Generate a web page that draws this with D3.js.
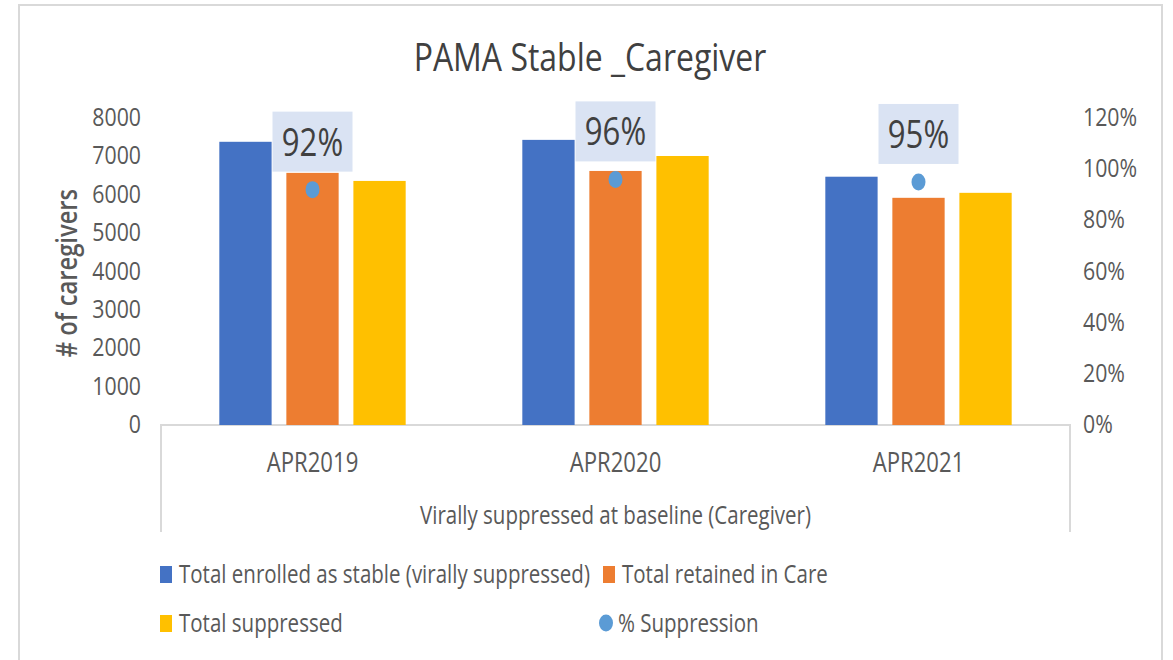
<!DOCTYPE html>
<html>
<head>
<meta charset="utf-8">
<script src="https://cdn.jsdelivr.net/npm/d3@7"></script>
<style>
  body { margin: 0; background: #fff; }
  text { font-family: "Open Sans", sans-serif; }
</style>
</head>
<body>
<script>
const categories = ["APR2019", "APR2020", "APR2021"];
const seriesNames = ["Total enrolled as stable (virally suppressed)", "Total retained in Care", "Total suppressed"];
const enrolled = [7380, 7430, 6470];
const retained = [6570, 6620, 5920];
const suppressed = [6360, 7010, 6050];
const pctSuppression = [0.92, 0.96, 0.95];
const pctLabels = ["92%", "96%", "95%"];
const leftTicks = [0, 1000, 2000, 3000, 4000, 5000, 6000, 7000, 8000];
const rightTicks = [0, 0.2, 0.4, 0.6, 0.8, 1.0, 1.2];

const colors = ["#4472c4", "#ed7d31", "#ffc000"];
const dotColor = "#5b9bd5";
const textColor = "#595959";
const SX = 0.82; // narrow, tall look of the source font

const width = 1173, height = 660;
const plot = { left: 161, right: 1070, top: 118, bottom: 425 };

const svg = d3.select("body").append("svg")
  .attr("width", width).attr("height", height);

// chart frame
svg.append("rect")
  .attr("x", 19).attr("y", 5)
  .attr("width", 1143).attr("height", 670)
  .attr("fill", "#fff")
  .attr("stroke", "#d9d9d9").attr("stroke-width", 2);

function label(x, y, str, size, anchor, color, extra) {
  const t = svg.append("text")
    .attr("transform", `translate(${x},${y})` + (extra || "") + ` scale(${SX},1)`)
    .attr("text-anchor", anchor)
    .attr("font-size", size + "px")
    .attr("fill", color)
    .text(str);
  return t;
}

const x0 = d3.scaleBand().domain(categories).range([plot.left, plot.right]);
const x1 = d3.scaleBand().domain(seriesNames).range([0, x0.bandwidth()])
  .paddingInner(0.22).paddingOuter(0.87);
const y = d3.scaleLinear().domain([0, 8000]).range([plot.bottom, plot.top]);
const y2 = d3.scaleLinear().domain([0, 1.2]).range([plot.bottom, plot.top]);

// title
label(590, 71, "PAMA Stable _Caregiver", 39, "middle", "#404040");

// category axis box
svg.append("path")
  .attr("d", `M${plot.left},532V${plot.bottom}H${plot.right}V532`)
  .attr("fill", "none").attr("stroke", "#d9d9d9").attr("stroke-width", 2);

// bars
const table = categories.map((c, i) => ({
  cat: c, vals: [enrolled[i], retained[i], suppressed[i]]
}));
const groups = svg.selectAll("g.grp").data(table).enter().append("g")
  .attr("class", "grp")
  .attr("transform", d => `translate(${x0(d.cat)},0)`);
groups.selectAll("rect")
  .data(d => d.vals.map((v, k) => ({ key: seriesNames[k], v, k })))
  .enter().append("rect")
  .attr("x", d => x1(d.key))
  .attr("width", x1.bandwidth())
  .attr("y", d => y(d.v))
  .attr("height", d => y(0) - y(d.v))
  .attr("fill", d => colors[d.k]);

// left ticks
leftTicks.forEach(t => label(141, y(t) + 8, String(t), 26, "end", textColor));
// right ticks
rightTicks.forEach(t => label(1083, y2(t) + 8, d3.format(".0%")(t), 26, "start", textColor));

// left axis title
label(77, 273, "# of caregivers", 29, "middle", textColor, " rotate(-90)")
  .attr("font-weight", "600");

// category labels
categories.forEach(c => label(x0(c) + x0.bandwidth() / 2, 472, c, 27, "middle", textColor));
label((plot.left + plot.right) / 2, 524, "Virally suppressed at baseline (Caregiver)", 25, "middle", textColor);

// % suppression dots and labels
categories.forEach((c, i) => {
  const cx = x0(c) + x0.bandwidth() / 2;
  const cy = y2(pctSuppression[i]);
  svg.append("rect")
    .attr("x", cx - 40).attr("y", cy - 78)
    .attr("width", 80).attr("height", 60)
    .attr("fill", "#dae3f3");
  label(cx, cy - 34, pctLabels[i], 38, "middle", "#404040");
  svg.append("ellipse")
    .attr("cx", cx).attr("cy", cy)
    .attr("rx", 7).attr("ry", 8.5)
    .attr("fill", dotColor);
});

// legend
const legendItems = [
  { name: seriesNames[0], color: colors[0], x: 160, y: 583, shape: "rect" },
  { name: seriesNames[1], color: colors[1], x: 603, y: 583, shape: "rect" },
  { name: seriesNames[2], color: colors[2], x: 160, y: 632, shape: "rect" },
  { name: "% Suppression", color: dotColor, x: 599, y: 632, shape: "circle" }
];
legendItems.forEach(d => {
  if (d.shape === "rect") {
    svg.append("rect").attr("x", d.x).attr("y", d.y - 17)
      .attr("width", 12).attr("height", 17).attr("fill", d.color);
  } else {
    svg.append("ellipse").attr("cx", d.x + 7).attr("cy", d.y - 9)
      .attr("rx", 7).attr("ry", 8.5).attr("fill", d.color);
  }
  label(d.x + 19, d.y, d.name, 25, "start", textColor);
});
</script>
</body>
</html>
